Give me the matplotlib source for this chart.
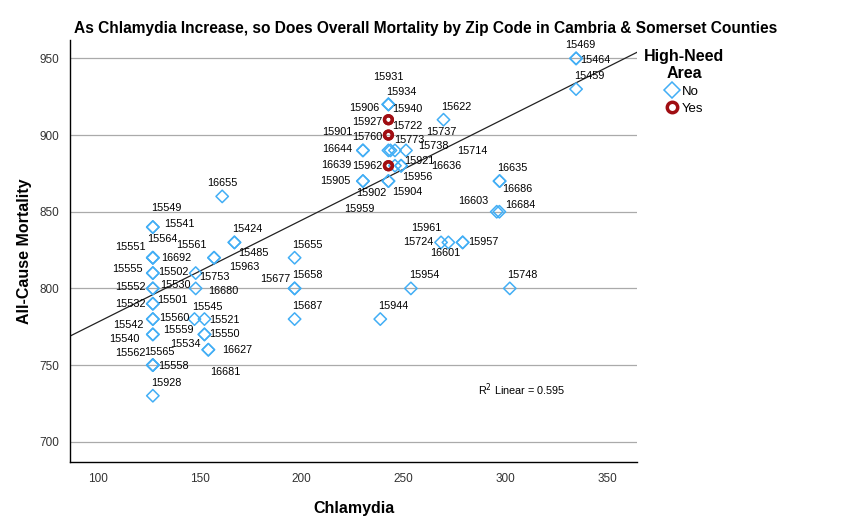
import numpy as np
import matplotlib.pyplot as plt
from matplotlib.lines import Line2D

plt.rcParams['font.family'] = ['Liberation Sans', 'DejaVu Sans']

# zip code, chlamydia rate, all-cause mortality, high-need area
zips = ['15549', '15541', '15564', '15551', '16692', '15555', '15502', '15552', '15530',
        '15532', '15501', '15542', '15560', '15540', '15559', '15562', '15565', '15558',
        '15928', '15561', '15424', '15485', '15963', '15753', '16680', '15545', '15521',
        '15550', '15534', '16627', '16681', '16655', '15655', '15677', '15658', '15687',
        '15931', '15934', '15906', '15940', '15927', '15722', '15760', '15901', '16644',
        '15773', '15737', '15738', '15714', '16639', '15962', '15921', '16636', '15956',
        '15905', '15902', '15904', '15959', '15622', '16603', '16684', '16601', '15961',
        '15724', '15957', '15954', '15748', '16635', '16686', '15944', '15469', '15464',
        '15459']
chlamydia = [127, 127, 127, 127, 127, 127, 127, 127, 127,
             127, 127, 127, 127, 127, 127, 127, 127, 127,
             127, 157, 167, 167, 157, 148, 148, 147.4, 152.3,
             152.3, 152.3, 154.2, 154.2, 161, 196.5, 196.5, 196.5, 196.5,
             242.5, 242.5, 242.5, 242.5, 242.5, 242.5, 242.5, 230, 230,
             242.5, 243.5, 245.7, 251.1, 242.5, 242.5, 245.7, 248.7, 248.7,
             230, 242.5, 242.5, 230, 269.5, 295.6, 296.9, 278.9, 271.9,
             268.3, 278.9, 253.5, 302, 297, 297, 238.5, 334.5, 334.5,
             334.5]
mortality = [840, 840, 820, 820, 820, 810, 810, 800, 800,
             790, 790, 780, 780, 770, 770, 750, 750, 750,
             730, 820, 830, 830, 820, 810, 800, 780, 780,
             770, 770, 760, 760, 860, 820, 800, 800, 780,
             920, 920, 920, 910, 910, 900, 900, 890, 890,
             890, 890, 890, 890, 880, 880, 880, 880, 880,
             870, 870, 870, 870, 910, 850, 850, 830, 830,
             830, 830, 800, 800, 870, 870, 780, 950, 950,
             930]
yes_zips = ['15927', '15940', '15722', '15760', '15962', '16639']
high_need = ['Yes' if z in yes_zips else 'No' for z in zips]

# linear fit line as drawn in the chart (R2 = 0.595)
fit_x = [86.4, 364.4]
fit_y = [768.9, 954.0]
r2_text = 'R$^2$ Linear = 0.595'

# label offsets in pixels (dx right, dy down)
label_off = {
    '15549': (13, -19), '15541': (27, -3), '15564': (9, -19), '15551': (-22, -11),
    '16692': (23, 0), '15555': (-25, -4), '15502': (20, -1), '15552': (-22, -1),
    '15530': (23, -3), '15532': (-22, 0), '15501': (20, -4), '15542': (-25, 6),
    '15560': (21, -1), '15540': (-29, 5), '15559': (26, -4), '15562': (-23, -12),
    '15565': (7, -13), '15558': (21, 1), '15928': (13, -13), '15561': (-23, -13),
    '15424': (13, -13), '15485': (19, 11), '15963': (30, 9), '15753': (19, 4),
    '16680': (28, 3), '15545': (13, -12), '15521': (20, 1), '15550': (20, 0),
    '15534': (-19, 10), '16627': (29, 0), '16681': (17, 22), '16655': (0, -13),
    '15655': (13, -13), '15677': (-19, -9), '15658': (13, -13), '15687': (13, -13),
    '15931': (0, -27), '15934': (13, -12), '15906': (-24, 4), '15940': (19, -11),
    '15927': (-21, 2), '15722': (19, -9), '15760': (-21, 2), '15901': (-26, -18),
    '16644': (-26, -1), '15773': (21, -10), '15737': (51, -18), '15738': (38, -4),
    '15714': (66, 1), '16639': (-52, -1), '15962': (-21, 0), '15921': (24, -5),
    '16636': (45, 0), '15956': (16, 11), '15905': (-28, 0), '15902': (-17, 12),
    '15904': (19, 11), '15959': (-4, 28), '15622': (13, -13), '16603': (-23, -11),
    '16684': (21, -7), '16601': (-17, 11), '15961': (-22, -14), '15724': (-23, 0),
    '15957': (21, 0), '15954': (13, -13), '15748': (13, -13), '16635': (13, -13),
    '16686': (18, 8), '15944': (13, -13), '15469': (4, -13), '15464': (19, 2),
    '15459': (13, -13),
}

x = np.array(chlamydia, dtype=float)
y = np.array(mortality, dtype=float)
need = np.array(high_need)

fig = plt.figure(figsize=(8.51, 5.27), dpi=100)
ax = fig.add_axes([0.0823, 0.1228, 0.6663, 0.8013])

blue = '#42AEF5'
red = '#A00D12'

no = need == 'No'
ax.scatter(x[no], y[no], marker='D', s=40, facecolor='none', edgecolor=blue,
           linewidth=1.1, zorder=3)
ax.scatter(x[~no], y[~no], marker='o', s=32, facecolor='none', edgecolor=red,
           linewidth=2.4, zorder=4)

for z, xi, yi in zip(zips, x, y):
    dx, dy = label_off[z]
    ax.annotate(z, (xi, yi), xytext=(dx, -dy), textcoords='offset pixels',
                ha='center', va='center', fontsize=7.8, color='black', zorder=5)

ax.plot(fit_x, fit_y, color='#222222', linewidth=0.9, zorder=2)

ax.set_xlim(86.4, 364.4)
ax.set_ylim(686.6, 962)
ax.set_xticks([100, 150, 200, 250, 300, 350])
ax.set_yticks([700, 750, 800, 850, 900, 950])
ax.tick_params(length=0, labelsize=8.5, colors='#333333', pad=8)
ax.yaxis.grid(True, color='#AAAAAA', linewidth=0.9)
ax.set_axisbelow(True)
for s in ['top', 'right']:
    ax.spines[s].set_visible(False)
for s in ['left', 'bottom']:
    ax.spines[s].set_linewidth(1.0)
    ax.spines[s].set_color('black')

ax.set_xlabel('Chlamydia', fontsize=11.5, fontweight='bold', labelpad=11)
ax.set_ylabel('All-Cause Mortality', fontsize=11.5, fontweight='bold', labelpad=5)
fig.text(0.5, 0.946, 'As Chlamydia Increase, so Does Overall Mortality by Zip Code in Cambria & Somerset Counties',
         ha='center', va='center', fontsize=11.2, fontweight='bold')
ax.text(286.4, 733.7, r2_text, fontsize=7.8, ha='left', va='center')

handles = [Line2D([], [], marker='D', linestyle='none', markersize=8.5, markerfacecolor='none',
                  markeredgecolor=blue, markeredgewidth=1.1),
           Line2D([], [], marker='o', linestyle='none', markersize=7.5, markerfacecolor='none',
                  markeredgecolor=red, markeredgewidth=2.5)]
leg = fig.legend(handles, ['No', 'Yes'], title='High-Need\nArea', loc='upper left',
                 bbox_to_anchor=(0.743, 0.93), frameon=False, fontsize=9.5,
                 handlelength=1.0, handletextpad=0.2, labelspacing=0.35,
                 title_fontproperties={'weight': 'bold', 'size': 11.5})
leg.get_title().set_multialignment('center')

fig.savefig('out.png', dpi=100)
